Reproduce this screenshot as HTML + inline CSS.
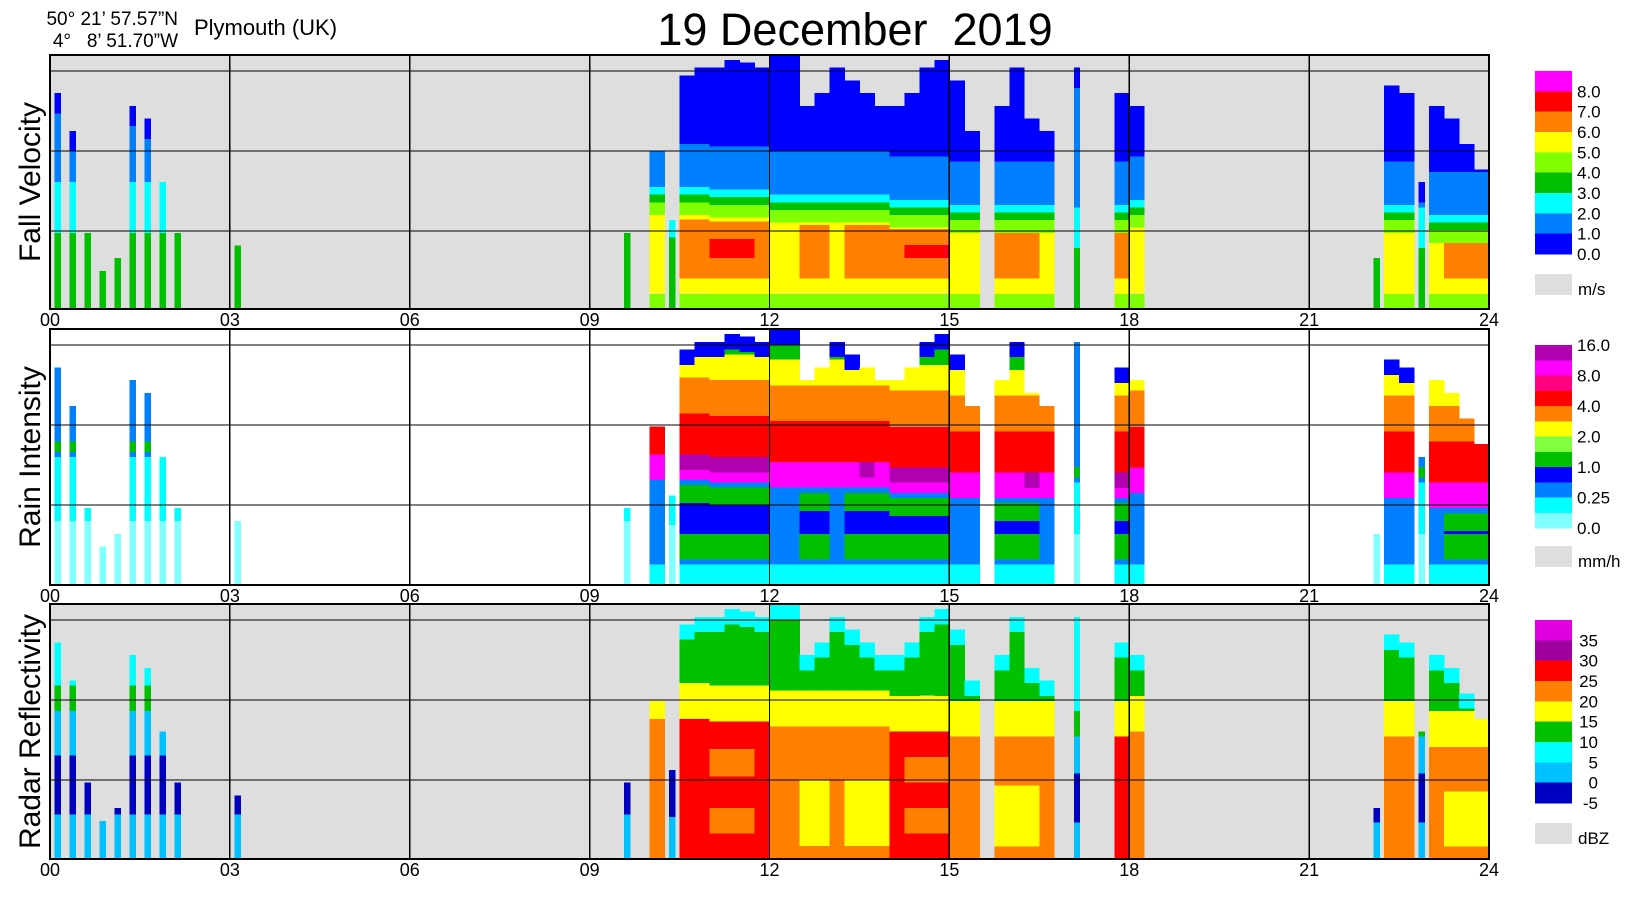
<!DOCTYPE html>
<html><head><meta charset="utf-8">
<style>
html,body{margin:0;padding:0;background:#fff;}
svg{display:block;font-family:"Liberation Sans",Arial,sans-serif;}
</style></head>
<body>
<svg id="chart" width="1640" height="900" viewBox="0 0 1640 900" xmlns="http://www.w3.org/2000/svg" shape-rendering="crispEdges">
<text x="178" y="25" font-size="19" text-anchor="end">50° 21’ 57.57”N</text>
<text x="178" y="47" font-size="19" text-anchor="end" xml:space="preserve">4°   8’ 51.70”W</text>
<text x="194" y="35" font-size="22">Plymouth (UK)</text>
<text x="855" y="45" font-size="45" text-anchor="middle" xml:space="preserve">19 December  2019</text>
<g id="panels"></g>
</svg>
<script>
// ---- data: 15-minute bins, 24 h ----
const hourTicks = ["00","03","06","09","12","15","18","21","24"];
const echoTop = [
0.85,0.7,0.3,0.15, 0.2,0.8,0.75,0.5, 0.3,0,0,0, 0.25,0,0,0,
0,0,0,0, 0,0,0,0, 0,0,0,0, 0,0,0,0, 0,0,0,0,
0,0,0.3,0, 0.62,0.35,0.92,0.95, 0.95,0.98,0.97,0.95, 1,1,0.8,0.85,
0.95,0.9,0.85,0.8, 0.8,0.85,0.95,0.98, 0.9,0.7,0,0.8, 0.95,0.75,0.7,0,
0.95,0,0,0.85, 0.8,0,0,0, 0,0,0,0, 0,0,0,0, 0,0,0,0,
0.2,0.88,0.85,0.5, 0.8,0.75,0.65,0.55];
const rainLevel = [
0.3,0.3,0.2,0.1, 0.1,0.3,0.3,0.2, 0.2,0,0,0, 0.1,0,0,0,
0,0,0,0, 0,0,0,0, 0,0,0,0, 0,0,0,0, 0,0,0,0,
0,0,0.1,0, 0.4,0.3,0.8,0.8, 0.85,0.9,0.85,0.8, 0.6,0.55,0.7,0.7,
0.6,0.65,0.75,0.7, 0.8,0.85,0.9,0.85, 0.6,0.5,0,0.7, 0.7,0.75,0.6,0,
0.3,0,0,0.8, 0.5,0,0,0, 0,0,0,0, 0,0,0,0, 0,0,0,0,
0.2,0.6,0.5,0.3, 0.6,0.7,0.7,0.7];
const meltLevel = [0.5,0.5,0.5,0.5,0.5,0.5,0.5,0.5,0.5,0.5,0.47,0.46,0.44,0.44,0.42,0.4,0.4,0.4,0.42,0.4,0.4,0.4,0.4,0.36];
const fvLabels = ["8.0","7.0","6.0","5.0","4.0","3.0","2.0","1.0","0.0"];
const riLabels = ["16.0","8.0","4.0","2.0","1.0","0.25","0.0"];
const dbzLabels = ["35","30","25","20","15","10","5","0","-5"];

const fvColors = ["#ff00ff","#ff0000","#ff8000","#ffff00","#80ff00","#00c000","#00ffff","#0080ff","#0000ff"];
const riColors = ["#b000b0","#ff00ff","#ff0080","#ff0000","#ff8000","#ffff00","#80ff40","#00c000","#0000ff","#0080ff","#00ffff","#80ffff"];
const dbzColors = ["#e000e0","#a000a0","#ff0000","#ff8000","#ffff00","#00c000","#00ffff","#00c0ff","#0000c0"];

const X0 = 50, X1 = 1489;
const xScale = h => X0 + h * (X1 - X0) / 24;
const NS = "http://www.w3.org/2000/svg";
const root = document.getElementById("panels");
function mk(tag, attrs, parent){ const e = document.createElementNS(NS, tag); for (const k in attrs) e.setAttribute(k, attrs[k]); (parent||root).appendChild(e); return e; }

const panels = [
 {key:"fall-velocity", title:"Fall Velocity", top:55, bottom:309, bg:"#dedede", unit:"m/s", colors:fvColors, labels:fvLabels, labelIdx:[1,2,3,4,5,6,7,8,9], lx:1535, ltop:71, lbottom:254, greyTop:274},
 {key:"rain-intensity", title:"Rain Intensity", top:329, bottom:585, bg:"#ffffff", unit:"mm/h", colors:riColors, labels:riLabels, labelIdx:[0,2,4,6,8,10,12], lx:1535, ltop:345, lbottom:528, greyTop:546},
 {key:"radar-reflectivity", title:"Radar Reflectivity", top:604, bottom:859, bg:"#dedede", unit:"dBZ", colors:dbzColors, labels:dbzLabels, labelIdx:[1,2,3,4,5,6,7,8,9], lx:1535, ltop:620, lbottom:803, greyTop:823}
];

function bandsFor(p, t, I, m){
  const b = [];
  if (p === 0) {
    if (I < 0.4) {
      b.push([0, m*0.6, "#00c000"],[m*0.6, m, "#00ffff"],[m, t, "#0080ff"],[t-0.08>m? t-0.08 : m, t, "#0000ff"]);
    } else {
      b.push([0,0.06,"#80ff00"],[0.06,m-0.1,"#ffff00"]);
      if (I > 0.6) b.push([0.12, m*0.75, "#ff8000"]);
      if (I > 0.84) b.push([0.2, m*0.6, "#ff0000"]);
      b.push([m-0.1,m-0.05,"#80ff00"],[m-0.05,m-0.02,"#00c000"],[m-0.02,m+0.01,"#00ffff"],[m+0.01,Math.min(t,m+0.18),"#0080ff"]);
      if (t > m+0.18) b.push([m+0.18, t, "#0000ff"]);
    }
  } else if (p === 1) {
    if (I < 0.4) {
      b.push([0, m, "#80ffff"],[m*0.5, m+0.05, "#00ffff"],[m, t, "#0080ff"],[m+0.02,m+0.06,"#00c000"]);
    } else {
      b.push([0,0.08,"#00ffff"],[0.08,m-0.06,"#0080ff"]);
      if (I > 0.6) b.push([0.1,m-0.08,"#00c000"],[0.2,m-0.15,"#0000ff"]);
      b.push([m-0.06,m-0.02,"#ff00ff"],[m-0.02,m+0.04,I>0.7?"#b000b0":"#ff00ff"],[m+0.04,Math.min(t,m+0.2),"#ff0000"]);
      if (t > m+0.2) b.push([m+0.2, Math.min(t, m+0.34), "#ff8000"]);
      if (t > m+0.34) b.push([m+0.34, Math.min(t, m+0.44), "#ffff00"]);
      if (t > m+0.44) b.push([m+0.44, t-0.04, "#00c000"],[t-0.06, t, "#0000ff"]);
    }
  } else {
    const mm = m + 0.08;
    if (I < 0.4) {
      b.push([0, mm, "#00c0ff"],[mm*0.3, mm*0.7, "#0000c0"],[mm, t, "#00ffff"],[mm, mm+0.1, "#00c000"]);
    } else {
      b.push([0, mm, I>0.75 ? "#ff0000" : "#ff8000"]);
      if (I > 0.6 && I <= 0.75) b.push([0.05, mm*0.6, "#ffff00"]);
      if (I > 0.84) b.push([0.1, mm*0.8, "#ff8000"],[0.2,mm*0.6,"#ff0000"]);
      b.push([mm, Math.min(t, mm+0.14), "#ffff00"]);
      if (t > mm+0.14) b.push([mm+0.14, t-0.06, "#00c000"],[t-0.06, t, "#00ffff"]);
    }
  }
  return b;
}

panels.forEach((P, pi) => {
  const g = mk("g", {"data-panel": P.key});
  
  
  const H = P.bottom - P.top;
  const bg = mk("rect", {x:X0, y:P.top, width:X1-X0, height:H, fill:P.bg}, g);
  
  
  const yOf = f => P.bottom - f * H;
  const marks = mk("g", {}, g);
  
  
  echoTop.forEach((t, i) => {
    if (t <= 0) return;
    const I = rainLevel[i];
    const m = meltLevel[Math.floor(i/4)];
    let x0 = xScale(i/4), w = xScale((i+1)/4) - x0;
    if (I < 0.35) { x0 += w*0.3; w *= 0.4; }
    bandsFor(pi, t, I, m).forEach(([f0, f1, c]) => {
      const a = Math.max(0, f0), b2 = Math.min(t, f1);
      if (b2 <= a) return;
      const r = mk("rect", {x:x0.toFixed(1), y:yOf(b2).toFixed(1), width:(w+0.4).toFixed(1), height:((b2-a)*H).toFixed(1), fill:c}, marks);
      
      
    });
  });
  [16, 96, 176].forEach(dy => {
    const l = mk("line", {x1:X0, x2:X1, y1:P.top+dy, y2:P.top+dy, stroke:"#000", "stroke-width":1.3}, g);
    
    
  });
  hourTicks.forEach((lab, k) => {
    const x = xScale(k*3);
    if (k > 0 && k < 8) {
      const l = mk("line", {x1:x, x2:x, y1:P.top, y2:P.bottom, stroke:"#000", "stroke-width":1.3}, g);
      
      
    }
    const tx = mk("text", {x:x, y:P.bottom+17, "font-size":18, "text-anchor":"middle"}, g);
    tx.textContent = lab;
    
    
  });
  const fr = mk("rect", {x:X0, y:P.top, width:X1-X0, height:H, fill:"none", stroke:"#000", "stroke-width":1.8}, g);
  
  
  const cy = (P.top + P.bottom)/2;
  const yt = mk("text", {x:0, y:0, "font-size":30, "text-anchor":"middle", transform:`translate(40,${cy}) rotate(-90)`}, g);
  yt.textContent = P.title;
  
  
  const lg = mk("g", {}, g);
  
  
  const n = P.colors.length, bh = (P.lbottom - P.ltop)/n;
  P.colors.forEach((c, k) => {
    const r = mk("rect", {x:P.lx, y:(P.ltop + k*bh).toFixed(1), width:37, height:(bh+0.5).toFixed(1), fill:c}, lg);
    
    
  });
  P.labels.forEach((lab, k) => {
    const y = P.ltop + P.labelIdx[k]*bh;
    const t = mk("text", {x: pi===2 ? 1598 : 1577, y:y+6, "font-size":17, "text-anchor": pi===2 ? "end" : "start"}, lg);
    t.textContent = lab;
    
    
  });
  const gr = mk("rect", {x:P.lx, y:P.greyTop, width:37, height:21, fill:"#dedede"}, lg);
  
  
  const ut = mk("text", {x:1578, y:P.greyTop+21, "font-size":17}, lg);
  ut.textContent = P.unit;
  
  
});
</script>
</body></html>
